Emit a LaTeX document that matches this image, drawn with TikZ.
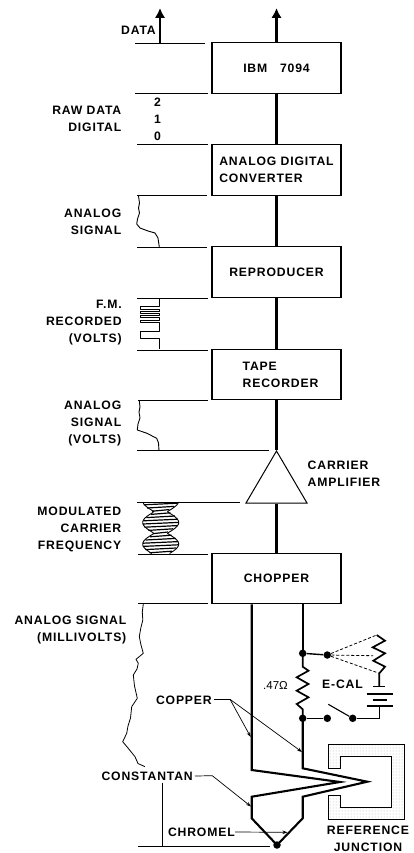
\documentclass[tikz,border=0pt]{standalone}
\usepackage{fontspec}
\setmainfont{Liberation Sans}[LetterSpace=7]
\newfontfamily\plainfont{Liberation Sans}
\usetikzlibrary{arrows.meta,positioning,patterns,shapes.geometric}
\tikzset{
  block/.style={draw, rectangle, minimum width=129pt, minimum height=50.5pt, inner sep=0pt,
                line width=1.1pt, align=left, font=\lettering},
  amptri/.style={draw, isosceles triangle, isosceles triangle apex angle=60,
                 isosceles triangle stretches, shape border rotate=90, minimum width=61pt,
                 minimum height=52pt, inner sep=0pt, line width=1pt},
  caption/.style={font=\lettering, align=right, inner sep=0pt},
  captionleft/.style={caption, align=left},
  dotnode/.style={circle, fill=black, inner sep=0pt, minimum size=7.5pt},
  wire/.style={line width=2.1pt, line join=miter},
  arrow/.style={-{Latex[length=10pt,width=10.5pt]}, line width=2.1pt},
  level/.style={line width=0.8pt},
  trace/.style={line width=0.9pt, line join=round},
  leader/.style={line width=0.7pt},
  leaderarrow/.style={leader, -{Stealth[length=5pt,width=3.5pt]}},
  dashlink/.style={line width=0.8pt, densely dashed},
}
\newcommand{\lettering}{\fontsize{12.2}{17}\selectfont\bfseries}
\begin{document}
\begin{tikzpicture}[x=1pt,y=-1pt]
\useasboundingbox (0,0) rectangle (414,853);

% ---------------- main chain of blocks ----------------
\node[block] (ibm) at (276.5,68) {IBM\ \ \ 7094};
\node[block] (adc) at (276.5,170) {ANALOG DIGITAL\\CONVERTER};
\node[block] (repro) at (276.5,272) {REPRODUCER};
\node[block] (tape) at (276.5,374.5) {\hspace*{8pt}TAPE\\\hspace*{8pt}RECORDER};
\node[amptri, anchor=apex] (amp) at (276.5,450) {};
\node[block] (chop) at (276.5,578.5) {CHOPPER};

\coordinate (outleft) at (160,8);
\coordinate (baseleft) at (160,43);
\coordinate (outright) at (276.5,8);
\draw[arrow] (baseleft) -- (outleft);
\draw[arrow] (ibm.north) -- (outright);
\draw[wire] (ibm) -- (adc);
\draw[wire] (adc) -- (repro);
\draw[wire] (repro) -- (tape);
\draw[wire] (tape) -- (amp.apex);
\draw[wire] (amp.south) -- (chop);

% levels on the left, one for each edge of a block
\foreach \y/\xa/\xb in {43/135/205, 93/135/208, 144.5/137/208, 195.5/137/207, 247/137/207,
                        298/137/208, 350/137/208, 400/138/208, 450.5/137/269, 502/137/240,
                        554/138/208, 603/138/208, 846/138/270}
  \draw[level] (\xa,\y) -- (\xb,\y);

% ---------------- signal traces ----------------
\draw[trace] (138.5,196) -- (139.5,203) -- (138.5,208) -- (139.5,213) -- (137.5,219) -- (136.7,224)
  -- (140,228) -- (148,231) -- (155,233) -- (158,238) -- (159.3,247);
\draw[trace, line width=1pt] (159.3,298) -- (159.3,306.5) -- (140,306.5) -- (140,309.3) -- (159.3,309.3)
  -- (159.3,311.5) -- (140,311.5) -- (140,313.5) -- (159.3,313.5) -- (159.3,315.5) -- (140,315.5)
  -- (140,317.5) -- (159.3,317.5) -- (159.3,320) -- (140,320) -- (140,322) -- (159.3,322)
  -- (159.3,331.5) -- (140,331.5) -- (140,338) -- (159.3,338) -- (159.3,349);
\draw[trace] (139.3,400.7) -- (140,407) -- (139,412) -- (140,418) -- (138,424) -- (137.3,430)
  -- (147,433.3) -- (156.7,438.3) -- (158.5,443) -- (159,450.7);
% modulated carrier: envelope, then its strokes
\draw[trace] plot[smooth, domain=502:553.5, samples=50] ({154.2-11.5*abs(sin(180*(\x-511.7)/21.6))},\x);
\draw[trace] plot[smooth, domain=502:553.5, samples=50] ({167.2+11.5*abs(sin(180*(\x-511.7)/21.6))},\x);
\foreach \y in {504,507.2,...,553}{
  \pgfmathsetmacro\halfw{6.5+11.5*abs(sin(180*(\y-511.7)/21.6))}
  \draw[line width=1.2pt] ({160.7-\halfw},\y+0.8) -- ({160.7+\halfw},\y-0.8);
}
\draw[trace, line width=0.8pt] (143.3,604) -- (142.3,612) -- (142.8,620) -- (140.8,628) -- (139.3,636.7)
  -- (141,645) -- (143.3,653.3) -- (136,659.3) -- (138.3,663.3) -- (137,669) -- (133.3,675)
  -- (134.5,686) -- (137.3,698.3) -- (131.7,706.7) -- (130.5,718) -- (128,726) -- (126.7,733.3)
  -- (122.7,741.7) -- (128,748) -- (135,756.7) -- (138,763.5) -- (145,766.7);

% ---------------- thermocouple ----------------
\coordinate (wla) at (251.7,770);
\coordinate (tipin) at (340,782);
\coordinate (wlb) at (251.7,796.7);
\coordinate (wlc) at (251.7,818.3);
\node[dotnode] (hotjunc) at (277,845) {};
\coordinate (wrc) at (302.7,818.3);
\coordinate (wrb) at (302.7,796.7);
\coordinate (tipout) at (367.3,781.7);
\coordinate (wra) at (302.7,768.3);
\node[dotnode] (shunttop) at (302.7,653.3) {};
\node[dotnode] (shuntbot) at (302.7,718.3) {};
\draw[wire] (chop.south -| wla) -- (wla) -- (tipin) -- (wlb) -- (wlc) -- (hotjunc.center)
  -- (wrc) -- (wrb) -- (tipout) -- (wra) -- (shuntbot.center);

% shunt and calibration branch
\node[dotnode] (fan) at (327.3,655) {};
\node[dotnode] (swopen) at (327.3,718.3) {};
\node[dotnode] (swshut) at (352.7,718.3) {};
\draw[wire] (chop.south -| shunttop) -- (shunttop.center);
\draw[wire, line width=1.7pt] (shunttop.center) -- (302.7,666.7) -- (308.5,670.7) -- (296.7,677.3) -- (308.5,684)
  -- (296.7,690.7) -- (308.5,697.3) -- (296.7,704) -- (302.7,709.3) -- (shuntbot.center);
\draw[wire, line width=1.4pt] (shunttop) -- (fan);
\draw[wire, line width=1.4pt] (shuntbot) -- (swopen);
\coordinate (swarm) at (328.3,704.3);
\draw[line width=1.1pt] (swarm) -- (swshut);
\coordinate (rctop) at (376.7,635);
\coordinate (rcmid) at (373,655.7);
\coordinate (rcend) at (379.3,673.3);
\coordinate (plateone) at (379.3,686.7);
\coordinate (batbot) at (379.3,706);
\coordinate (batcorner) at (379.3,718.3);
\draw[wire, line width=1.7pt] (rctop) -- (385,640.7) -- (372.7,647.3) -- (385,653.3) -- (373.3,660.7)
  -- (385,666.7) -- (rcend) -- (plateone);
\draw[wire, line width=1.2pt] (swshut) -- (batcorner) -- (batbot);
\draw[line width=1.2pt] (373.3,686.7) -- (385,686.7);
\draw[line width=1.2pt] (366.7,694) -- (392.7,694);
\draw[line width=1.2pt] (372.7,700) -- (387,700);
\draw[line width=1.2pt] (366.7,706) -- (392.7,706);
\draw[dashlink] (fan) -- (rctop);
\draw[dashlink] (fan) -- (rcmid);
\draw[dashlink] (fan) -- (rcend);

% reference junction block
\draw[line width=1pt, pattern=dots, pattern color=black!30] (328.3,744) -- (404,744) -- (404,819.3)
  -- (328.3,819.3) -- (328.3,795) -- (340.7,795) -- (340.7,807.3) -- (391.7,807.3) -- (391.7,756.7)
  -- (340.7,756.7) -- (340.7,768.3) -- (328.3,768.3) -- cycle;

% ---------------- labels ----------------
\node[caption, anchor=east] (datalbl) at (156,30) {DATA};
\node[caption, align=center] (digits) at (157.5,119.5) {2\\1\\0};
\node[caption, anchor=east] (rawlbl) at (121.5,118.5) {RAW DATA\\DIGITAL};
\node[caption, anchor=east] (sigone) at (121.5,221.5) {ANALOG\\SIGNAL};
\node[caption, anchor=east] (fmlbl) at (122,323) {F.M.\\RECORDED\\(VOLTS)};
\node[caption, anchor=east] (sigtwo) at (121.5,424) {ANALOG\\SIGNAL\\(VOLTS)};
\node[captionleft, anchor=west] (amplbl) at (307.5,473.5) {CARRIER\\AMPLIFIER};
\node[caption, anchor=east] (modlbl) at (121.5,529) {MODULATED\\CARRIER\\FREQUENCY};
\node[caption, anchor=east] (millilbl) at (126.5,630) {ANALOG SIGNAL\\(MILLIVOLTS)};
\node[caption, anchor=east] (copperlbl) at (212,700) {COPPER};
\node[caption, anchor=east] (constlbl) at (193,776) {CONSTANTAN};
\node[caption, anchor=east] (chromlbl) at (235,832) {CHROMEL};
\node[caption, align=center] (reflbl) at (368,838.5) {REFERENCE\\JUNCTION};
\node[caption] (ecallbl) at (342.5,684) {E-CAL};
\node[caption, font=\plainfont\fontsize{11.5}{13}\selectfont] (ohmlbl) at (275.5,685) {.47Ω};

% leaders
\coordinate (copperknee) at (230,699.3);
\coordinate (copperleft) at (250.7,737);
\coordinate (copperright) at (302,752);
\coordinate (constknee) at (212.3,775.7);
\coordinate (constend) at (251,806.5);
\coordinate (chromend) at (287.5,832.3);
\coordinate (constfoot) at (162.3,846);
\coordinate (conststem) at (162.3,782.5);
\draw[leader] (copperlbl.east) ++(2pt,-0.7) -- (copperknee);
\draw[leaderarrow] (copperknee) -- (copperleft);
\draw[leaderarrow] (copperknee) -- (copperright);
\draw[leaderarrow] (constlbl.east) ++(2pt,0) -- (constknee) -- (constend);
\draw[leaderarrow] (chromlbl.east) -- (chromend);
\draw[leader] (conststem) -- (constfoot);
\end{tikzpicture}
\end{document}
